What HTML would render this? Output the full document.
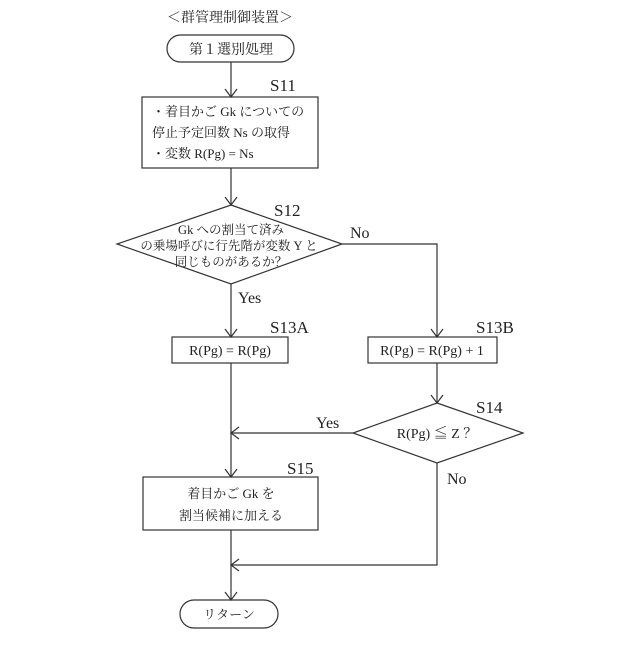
<!DOCTYPE html>
<html><head><meta charset="utf-8"><style>
body{margin:0;background:#fff}
text{font-family:"Liberation Serif","Noto Serif CJK SC",serif;fill:#222}
</style></head><body>
<svg width="640" height="640" viewBox="0 0 640 640" xmlns="http://www.w3.org/2000/svg">
<g stroke="#333" stroke-width="1.2" fill="none">
<rect x="167" y="35" width="127" height="27" rx="13.5"/>
<line x1="231" y1="62" x2="231" y2="97"/><polyline points="225,89 231,97 237,89"/>
<rect x="142" y="97" width="176" height="71"/>
<line x1="231" y1="168" x2="231" y2="205"/><polyline points="225,197 231,205 237,197"/>
<polygon points="231,205 342,244 231,284 117,244"/>
<polyline points="342,244 437,244 437,337"/><polyline points="431,329 437,337 443,329"/>
<line x1="231" y1="284" x2="231" y2="337"/><polyline points="225,329 231,337 237,329"/>
<rect x="172" y="337" width="116" height="26"/>
<rect x="368" y="337" width="129" height="26"/>
<line x1="437" y1="363" x2="437" y2="403"/><polyline points="431,395 437,403 443,395"/>
<polygon points="437,403 523,433 437,463 353,433"/>
<line x1="353" y1="433" x2="231" y2="433"/><polyline points="239,427 231,433 239,439"/>
<line x1="231" y1="363" x2="231" y2="477"/><polyline points="225,469 231,477 237,469"/>
<rect x="143" y="477" width="175" height="53"/>
<polyline points="437,463 437,565 231,565"/><polyline points="239,559 231,565 239,571"/>
<line x1="231" y1="530" x2="231" y2="600"/><polyline points="225,592 231,600 237,592"/>
<rect x="180" y="600" width="98" height="28" rx="14"/>
</g>
<g font-size="14">
<text x="230" y="22" text-anchor="middle">＜群管理制御装置＞</text>
<text x="231" y="54" text-anchor="middle">第１選別処理</text>
<text x="270" y="91" font-size="17">S11</text>
<text x="152" y="116" font-size="13">・着目かご Gk についての</text>
<text x="152" y="137" font-size="13">停止予定回数 Ns の取得</text>
<text x="152" y="158" font-size="13">・変数 R(Pg) = Ns</text>
<text x="274" y="216" font-size="17">S12</text>
<g font-size="12.5" text-anchor="middle">
<text x="231" y="234">Gk への割当て済み</text>
<text x="229" y="250">の乗場呼びに行先階が変数 Y と</text>
<text x="231" y="266">同じものがあるか？</text>
</g>
<text x="350" y="238" font-size="16">No</text>
<text x="238" y="303" font-size="16">Yes</text>
<text x="270" y="333" font-size="17">S13A</text>
<text x="476" y="333" font-size="17">S13B</text>
<text x="230" y="355" text-anchor="middle" font-size="14">R(Pg) = R(Pg)</text>
<text x="432" y="355" text-anchor="middle" font-size="14">R(Pg) = R(Pg) + 1</text>
<text x="476" y="413" font-size="17">S14</text>
<text x="437" y="438" text-anchor="middle" font-size="14">R(Pg) ≦ Z ？</text>
<text x="316" y="428" font-size="16">Yes</text>
<text x="447" y="484" font-size="16">No</text>
<text x="287" y="474" font-size="17">S15</text>
<text x="231" y="498" text-anchor="middle" font-size="13">着目かご Gk を</text>
<text x="231" y="520" text-anchor="middle" font-size="13">割当候補に加える</text>
<text x="229" y="619" text-anchor="middle" font-size="13">リターン</text>
</g>
</svg>
</body></html>
